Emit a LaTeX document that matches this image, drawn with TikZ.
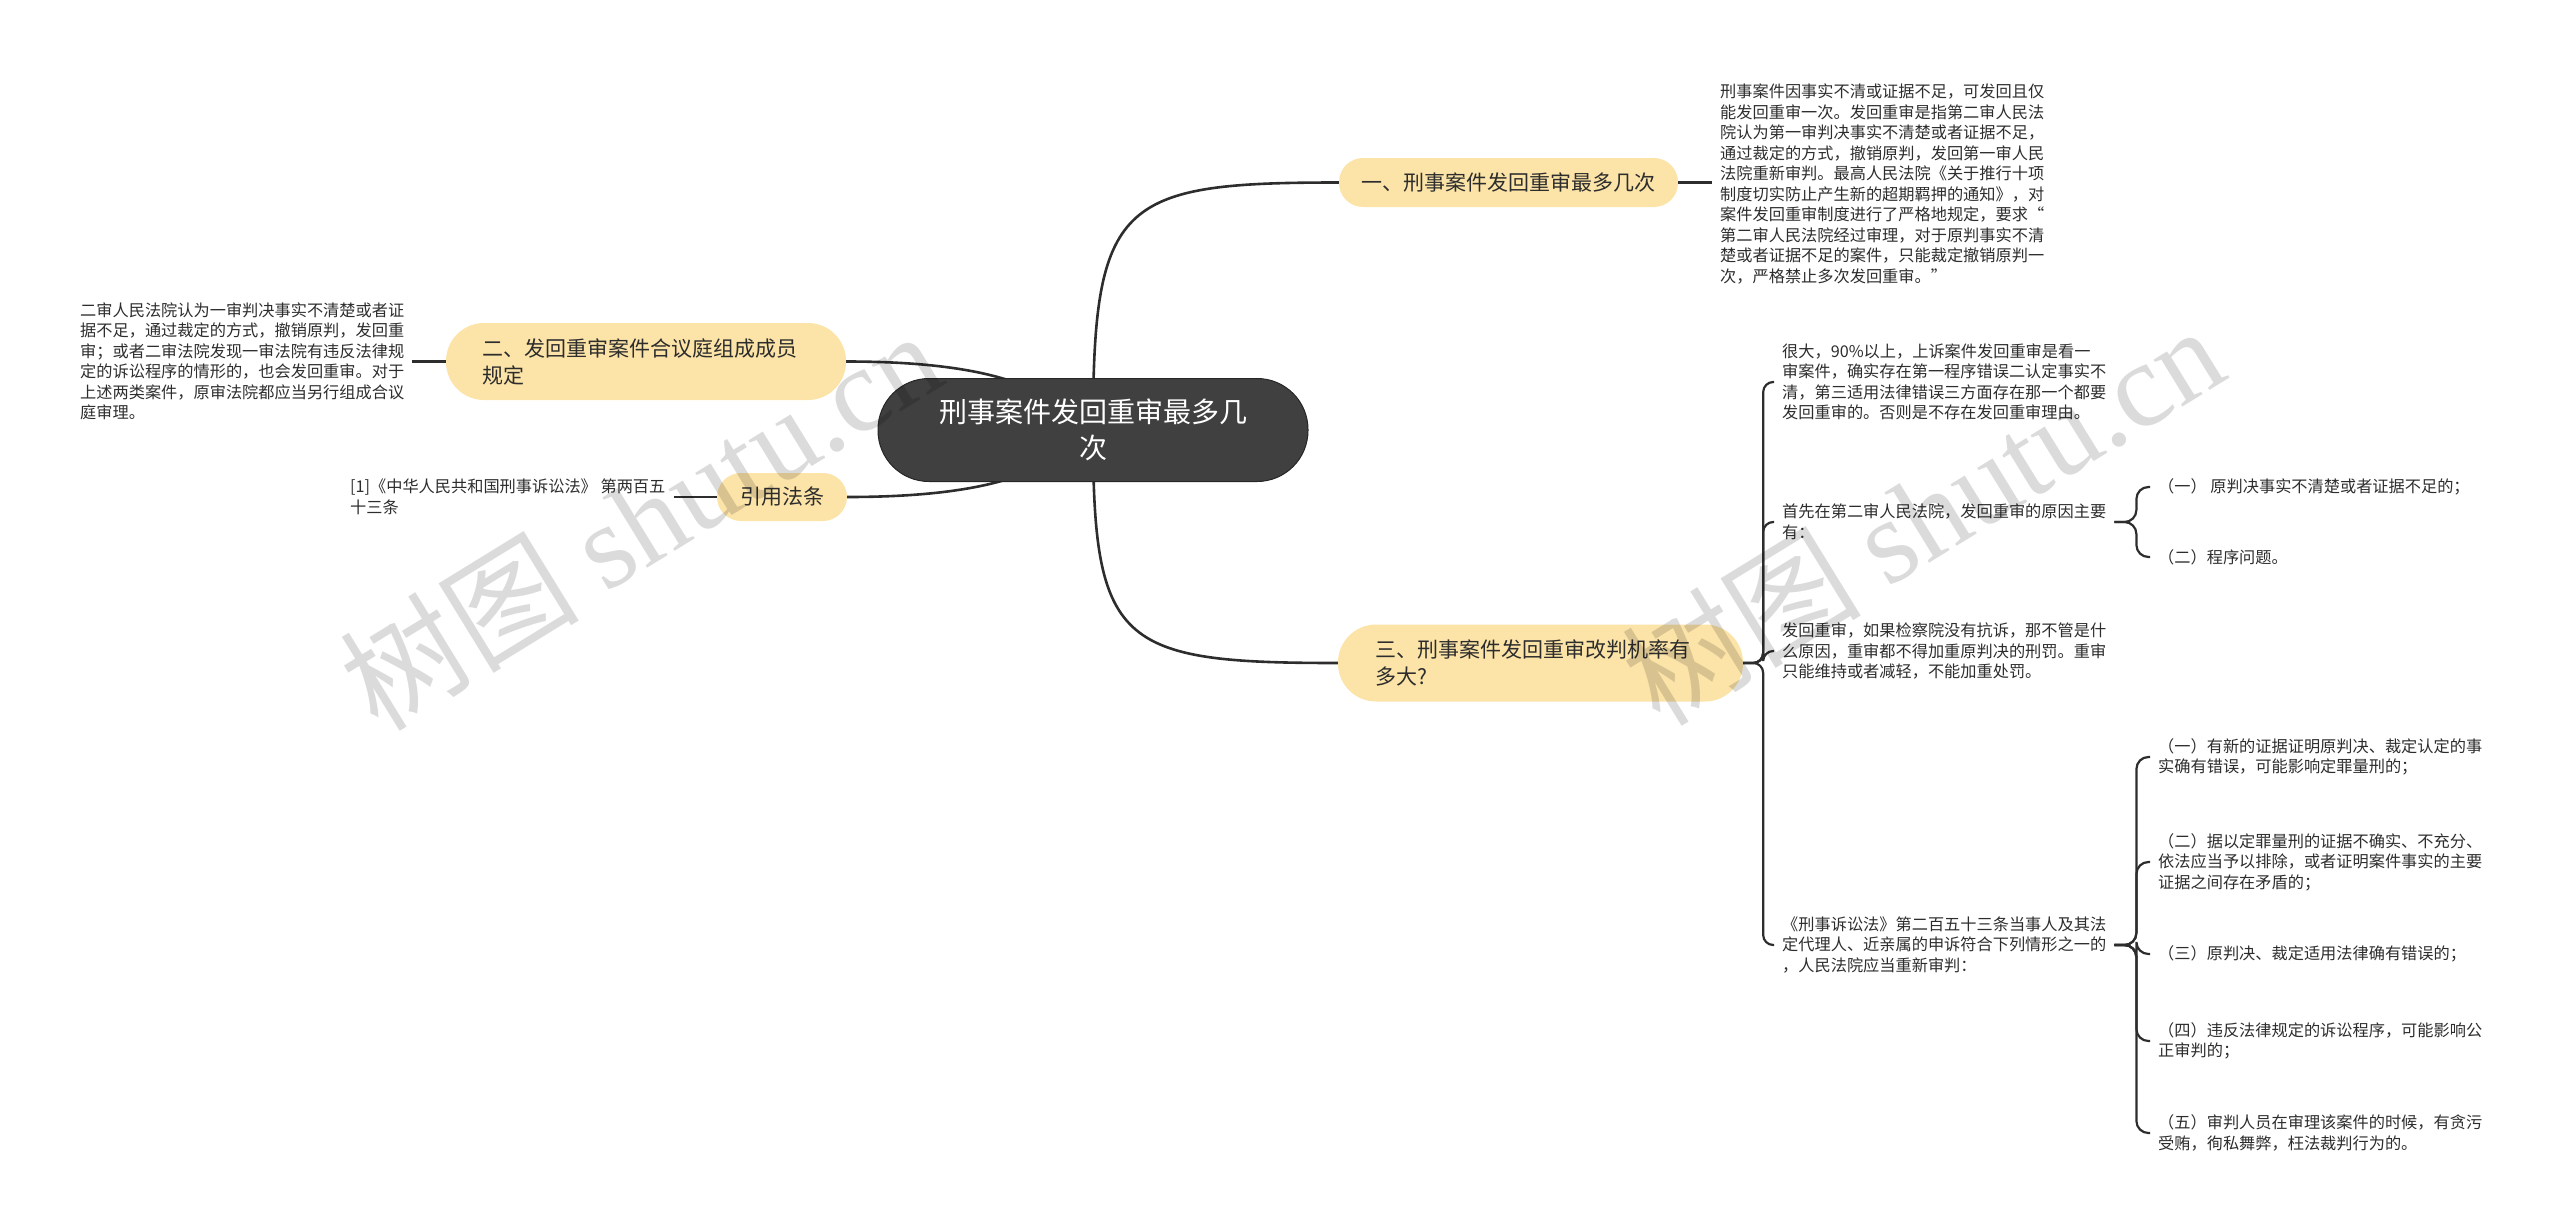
\documentclass[tikz,border=0pt]{standalone}
\usepackage{fontspec}
\setmainfont{Noto Sans CJK SC}
\newfontfamily\wmserif{Liberation Serif}
\usetikzlibrary{calc,backgrounds}
\definecolor{branchfill}{RGB}{252,228,168}
\definecolor{centerfill}{RGB}{64,64,64}
\definecolor{linec}{RGB}{45,45,45}
\definecolor{txt}{RGB}{45,45,45}
\tikzset{
  conn/.style={draw=linec, line width=2.2pt},
  mainconn/.style={draw=linec, line width=2.6pt},
  centernode/.style={fill=centerfill, draw=black!85, line width=1pt, text=white,
    rounded corners=51pt, minimum width=430pt, minimum height=103pt,
    align=center, font=\fontsize{28}{36}\selectfont, inner sep=0pt},
  branch/.style={fill=branchfill, text=txt, font=\fontsize{21}{27}\selectfont, inner sep=0pt},
  leaf/.style={text=txt, font=\fontsize{16.2}{20.5}\selectfont, align=left,
    inner xsep=8pt, inner ysep=3pt, anchor=west},
  watermark/.style={rotate=31.6, text=black, text opacity=0.14,
    font=\fontsize{120}{120}\selectfont, inner sep=0pt}
}
\begin{document}
\begin{tikzpicture}[x=1pt,y=-1pt]
\useasboundingbox (0,0) rectangle (2560,1229);

% central
\node[centernode] (c) at (1093,430) {刑事案件发回重审最多几\\次};

% branches
\node[branch, rounded corners=24pt, minimum width=339pt, minimum height=49pt] (b1) at (1508.5,182.5) {一、刑事案件发回重审最多几次};
\node[branch, rounded corners=38pt, minimum height=77pt, text width=328pt, inner xsep=36pt, align=left] (b2) at (646,361.5) {二、发回重审案件合议庭组成成员\\规定};
\node[branch, rounded corners=38pt, minimum height=77pt, text width=330pt, inner xsep=37.5pt, align=left] (b3) at (1540.5,663) {三、刑事案件发回重审改判机率有\\多大?};
\node[branch, rounded corners=24pt, minimum width=130pt, minimum height=48pt] (b4) at (782,497) {引用法条};

% leaves
\node[leaf] (t1) at (1712,184) {刑事案件因事实不清或证据不足，可发回且仅\\能发回重审一次。发回重审是指第二审人民法\\院认为第一审判决事实不清楚或者证据不足，\\通过裁定的方式，撤销原判，发回第一审人民\\法院重新审判。最高人民法院《关于推行十项\\制度切实防止产生新的超期羁押的通知》，对\\案件发回重审制度进行了严格地规定，要求“\\第二审人民法院经过审理，对于原判事实不清\\楚或者证据不足的案件，只能裁定撤销原判一\\次，严格禁止多次发回重审。”};

\node[leaf] (t2) at (72,361.5) {二审人民法院认为一审判决事实不清楚或者证\\据不足，通过裁定的方式，撤销原判，发回重\\审；或者二审法院发现一审法院有违反法律规\\定的诉讼程序的情形的，也会发回重审。对于\\上述两类案件，原审法院都应当另行组成合议\\庭审理。};

\node[leaf] (cite) at (342,497) {[1]《中华人民共和国刑事诉讼法》 第两百五\\十三条};

\node[leaf] (t3a) at (1774,382) {很大，90\%以上，上诉案件发回重审是看一\\审案件，确实存在第一程序错误二认定事实不\\清，第三适用法律错误三方面存在那一个都要\\发回重审的。否则是不存在发回重审理由。};
\node[leaf] (t3b) at (1774,522) {首先在第二审人民法院，发回重审的原因主要\\有：};
\node[leaf] (t3c) at (1774,651) {发回重审，如果检察院没有抗诉，那不管是什\\么原因，重审都不得加重原判决的刑罚。重审\\只能维持或者减轻，不能加重处罚。};
\node[leaf] (t3d) at (1774,945) {《刑事诉讼法》第二百五十三条当事人及其法\\定代理人、近亲属的申诉符合下列情形之一的\\，人民法院应当重新审判：};

\node[leaf] (t3b1) at (2150,487) {（一） 原判决事实不清楚或者证据不足的；};
\node[leaf] (t3b2) at (2150,557) {（二）程序问题。};

\node[leaf] (t3d1) at (2150,757) {（一）有新的证据证明原判决、裁定认定的事\\实确有错误，可能影响定罪量刑的；};
\node[leaf] (t3d2) at (2150,862) {（二）据以定罪量刑的证据不确实、不充分、\\依法应当予以排除，或者证明案件事实的主要\\证据之间存在矛盾的；};
\node[leaf] (t3d3) at (2150,954) {（三）原判决、裁定适用法律确有错误的；};
\node[leaf] (t3d4) at (2150,1041) {（四）违反法律规定的诉讼程序，可能影响公\\正审判的；};
\node[leaf] (t3d5) at (2150,1133) {（五）审判人员在审理该案件的时候，有贪污\\受贿，徇私舞弊，枉法裁判行为的。};

% connectors
\begin{scope}[on background layer]
\draw[mainconn] (c.center) .. controls ($(c.center |- b1.west)+(0,18)$) and ($(b1.west)+(-220,0)$) .. (b1.west);
\draw[mainconn] (c.center) .. controls ($(c.center |- b3.west)+(0,-18)$) and ($(b3.west)+(-220,0)$) .. (b3.west);
\draw[mainconn] (b2.east) .. controls ($(b2.east)+(194,0)$) and ($(c.center)+(-33,-20)$) .. (c.center);
\draw[mainconn] (b4.east) .. controls ($(b4.east)+(193,0)$) and ($(c.center)+(-33,20)$) .. (c.center);
\end{scope}

\draw[conn] (b1.east) -- (t1.west |- b1.east);
\draw[conn] (t2.east) -- (b2.west);
\draw[conn] (cite.east) -- (b4.west);

\coordinate (s3) at ($(b3.east)+(20,0)$);
\foreach \n in {t3a,t3b,t3c,t3d}
  \draw[conn, rounded corners=10pt] (b3.east) -- (s3) |- (\n.west);

\coordinate (s3b) at ($(t3b.east)+(22,0)$);
\foreach \n in {t3b1,t3b2}
  \draw[conn, rounded corners=12pt] (t3b.east) -- (s3b) |- (\n.west);

\coordinate (s3d) at ($(t3d.east)+(22,0)$);
\foreach \n in {t3d1,t3d2,t3d3,t3d4,t3d5}
  \draw[conn, rounded corners=12pt] (t3d.east) -- (s3d) |- (\n.west);

% watermarks
\node[watermark] (wm1) at (640,519) {树图 {\wmserif shutu.cn}};
\node[watermark] (wm2) at (1922,514) {树图 {\wmserif shutu.cn}};
\end{tikzpicture}
\end{document}
